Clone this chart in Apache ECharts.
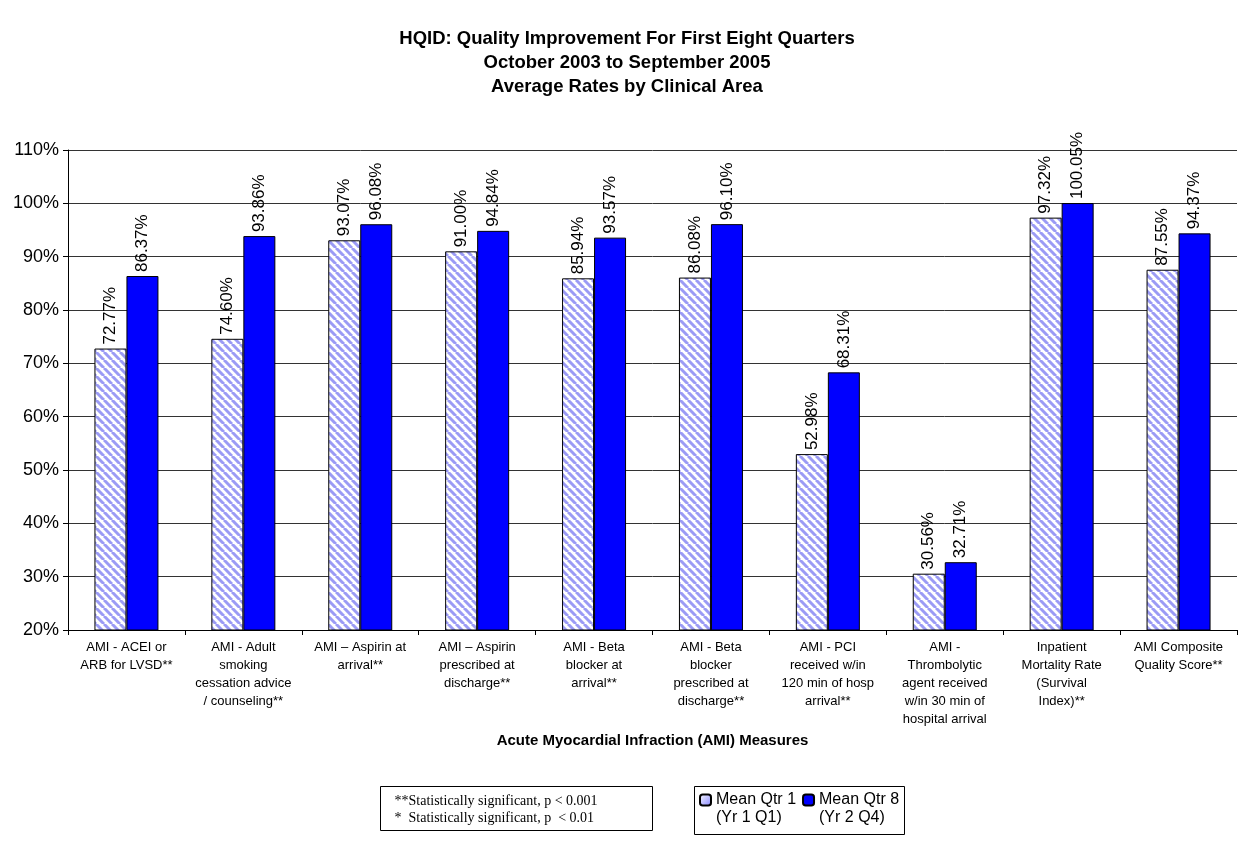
<!DOCTYPE html>
<html>
<head>
<meta charset="utf-8">
<script src="https://cdn.jsdelivr.net/npm/echarts@6/dist/echarts.min.js"></script>
<style>
  html, body { margin: 0; padding: 0; background: #fff; }
  #chart { width: 1254px; height: 844px; }
</style>
</head>
<body>
<div id="chart"></div>
<script>
// chart data
const categories = [
  'AMI - ACEI or\nARB for LVSD**',
  'AMI - Adult\nsmoking\ncessation advice\n/ counseling**',
  'AMI \u2013 Aspirin at\narrival**',
  'AMI \u2013 Aspirin\nprescribed at\ndischarge**',
  'AMI - Beta\nblocker at\narrival**',
  'AMI - Beta\nblocker\nprescribed at\ndischarge**',
  'AMI - PCI\nreceived w/in\n120 min of hosp\narrival**',
  'AMI -\nThrombolytic\nagent received\nw/in 30 min of\nhospital arrival',
  'Inpatient\nMortality Rate\n(Survival\nIndex)**',
  'AMI Composite\nQuality Score**'
]
const meanQtr1 = [72.77, 74.60, 93.07, 91.00, 85.94, 86.08, 52.98, 30.56, 97.32, 87.55]
const meanQtr8 = [86.37, 93.86, 96.08, 94.84, 93.57, 96.10, 68.31, 32.71, 100.05, 94.37]
const seriesNames = ['Mean Qtr 1', 'Mean Qtr 8']
const legendSub = {'Mean Qtr 1': '(Yr 1 Q1)', 'Mean Qtr 8': '(Yr 2 Q4)'}

// diagonal stripe pattern for the first quarter bars
function stripes() {
  const s = 8
  const c = document.createElement('canvas')
  c.width = s
  c.height = s
  const ctx = c.getContext('2d')
  ctx.fillStyle = '#fff'
  ctx.fillRect(0, 0, s, s)
  ctx.strokeStyle = '#9b9bf5'
  ctx.lineWidth = 3
  for (const k of [-s, 0, s]) {
    ctx.beginPath()
    ctx.moveTo(k, 0)
    ctx.lineTo(k + s, s)
    ctx.stroke()
  }
  return { image: c, repeat: 'repeat' }
}

const chart = echarts.init(document.getElementById('chart'))
const font = 'Liberation Sans, Arial, sans-serif'
const barLabel = {
  show: true,
  position: 'top',
  rotate: 90,
  align: 'left',
  verticalAlign: 'middle',
  distance: 4,
  fontFamily: font,
  fontSize: 17,
  color: '#000',
  formatter: p => p.value.toFixed(2) + '%'
}

chart.setOption({
  animation: false,
  textStyle: { fontFamily: font },
  title: {
    text: 'HQID: Quality Improvement For First Eight Quarters\nOctober 2003 to September 2005\nAverage Rates by Clinical Area',
    left: 'center',
    top: 22,
    textStyle: { fontSize: 18.5, fontWeight: 'bold', lineHeight: 24, color: '#000' }
  },
  legend: {
    left: 699,
    top: 773,
    orient: 'horizontal',
    itemWidth: 11,
    itemHeight: 11,
    itemGap: 6,
    padding: 0,
    data: [
      { name: seriesNames[0], itemStyle: { color: new echarts.graphic.LinearGradient(0, 0, 1, 1, [{ offset: 0, color: '#fff' }, { offset: 1, color: '#8080ff' }]) } },
      { name: seriesNames[1] }
    ],
    formatter: n => '\n' + n + '\n' + legendSub[n],
    textStyle: { fontSize: 16, color: '#000', lineHeight: 18 }
  },
  grid: { left: 68, right: 17, top: 150, bottom: 214 },
  xAxis: {
    type: 'category',
    data: categories,
    name: 'Acute Myocardial Infraction (AMI) Measures',
    nameLocation: 'middle',
    nameGap: 76,
    nameTextStyle: { fontSize: 15, fontWeight: 'bold', color: '#000' },
    axisLine: { lineStyle: { color: '#000' } },
    axisTick: { show: true, length: 5, lineStyle: { color: '#000' } },
    axisLabel: { interval: 0, fontSize: 13, lineHeight: 18, color: '#000', margin: 8 }
  },
  yAxis: {
    type: 'value',
    min: 20,
    max: 110,
    interval: 10,
    axisLine: { show: true, lineStyle: { color: '#000' } },
    axisTick: { show: true, inside: false, length: 5, lineStyle: { color: '#000' } },
    splitLine: { lineStyle: { color: '#333' } },
    axisLabel: { fontSize: 18, color: '#000', formatter: '{value}%', margin: 9 }
  },
  graphic: [{
    type: 'group',
    left: 380,
    top: 786,
    children: [{
      type: 'rect',
      shape: { x: 0, y: 0, width: 272, height: 44 },
      style: { fill: '#fff', stroke: '#000', lineWidth: 1 }
    }, {
      type: 'text',
      left: 14,
      top: 6,
      style: {
        text: '**Statistically significant, p < 0.001\n*  Statistically significant, p  < 0.01',
        fontFamily: 'Liberation Serif, Times New Roman, serif',
        fontSize: 14,
        lineHeight: 17,
        fill: '#000'
      }
    }]
  }, {
    type: 'rect',
    left: 692,
    top: 784,
    z: 0,
    shape: { x: 0, y: 0, width: 210, height: 48 },
    style: { fill: 'none', stroke: '#000', lineWidth: 1 }
  }],
  series: [{
    name: seriesNames[0],
    type: 'bar',
    data: meanQtr1,
    barWidth: 32,
    barGap: '0%',
    itemStyle: { color: stripes(), borderColor: '#000', borderWidth: 1 },
    label: barLabel
  }, {
    name: seriesNames[1],
    type: 'bar',
    data: meanQtr8,
    barWidth: 32,
    itemStyle: { color: '#0000ff', borderColor: '#000', borderWidth: 1 },
    label: barLabel
  }]
})
</script>
</body>
</html>
